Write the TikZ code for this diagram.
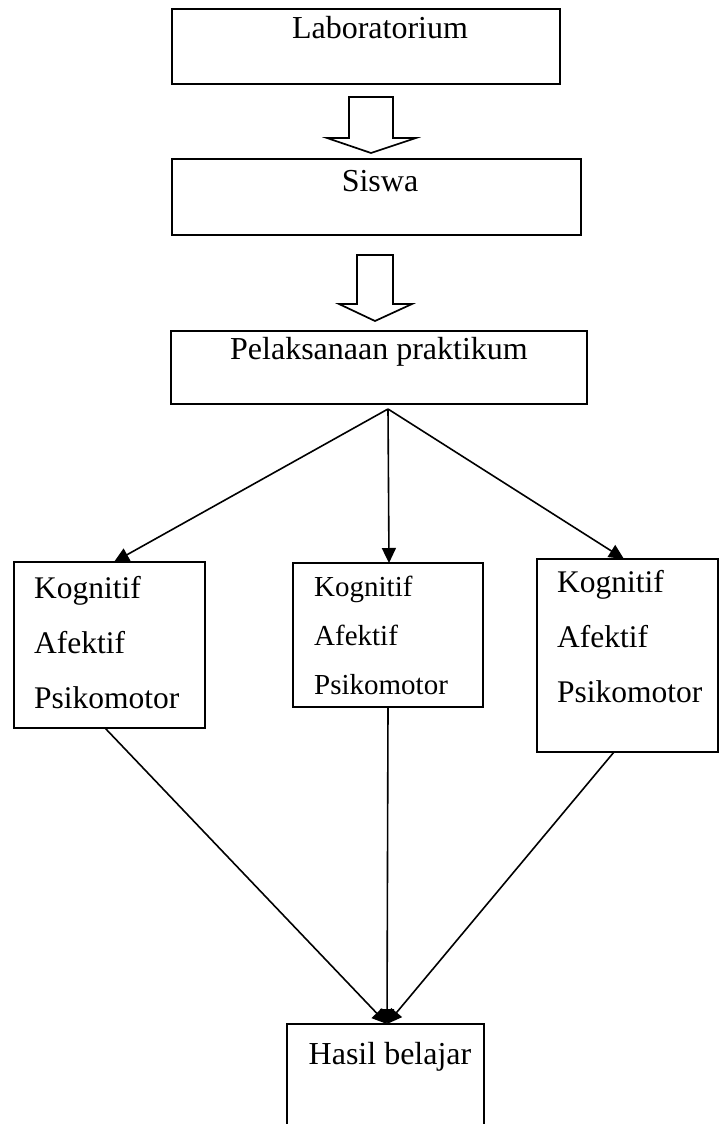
\documentclass[tikz,border=0pt]{standalone}
\usepackage{fontspec}
\setmainfont{Liberation Serif}
\usetikzlibrary{arrows.meta,calc}
\begin{document}
\begin{tikzpicture}[x=1pt,y=-1pt,
  box/.style={draw, line width=1.6pt, inner sep=0pt, outer sep=0pt},
  conn/.style={line width=1.6pt, -{Triangle[length=15pt,width=14pt]}},
  tcenter/.style={anchor=base, inner sep=0pt, font=\fontsize{32}{38}\selectfont},
  tleft/.style={anchor=base west, inner sep=0pt, font=\fontsize{31.5}{38}\selectfont},
  tmid/.style={anchor=base west, inner sep=0pt, font=\fontsize{29}{35}\selectfont},
  blockarrow/.style={draw, line width=1.7pt, line join=miter}]
\useasboundingbox (0,0) rectangle (720,1124);
% boxes
\node[box, minimum width=388pt, minimum height=75pt] (lab) at (366,46.5) {};
\node[box, minimum width=409pt, minimum height=76pt] (sis) at (376.5,197) {};
\node[box, minimum width=416pt, minimum height=73pt] (pel) at (379,367.5) {};
\node[box, minimum width=191pt, minimum height=166pt] (k1) at (109.5,645) {};
\node[box, minimum width=190pt, minimum height=144pt] (k2) at (388,635) {};
\node[box, minimum width=181pt, minimum height=193pt] (k3) at (627.5,655.5) {};
\node[box, minimum width=197pt, minimum height=130pt] (has) at (385.5,1089) {};
% texts
\node[tcenter] (t1) at (380,39) {Laboratorium};
\node[tcenter] (t2) at (380,191) {Siswa};
\node[tcenter] (t3) at (379,359) {Pelaksanaan praktikum};
\node[tcenter] (t4) at (390,1064) {Hasil belajar};
\node[tleft] (a1) at (34,598) {Kognitif};
\node[tleft] (a2) at (34,653) {Afektif};
\node[tleft] (a3) at (34,708) {Psikomotor};
\node[tmid] (b1) at (314,596) {Kognitif};
\node[tmid] (b2) at (314,645) {Afektif};
\node[tmid] (b3) at (314,694) {Psikomotor};
\node[tleft] (c1) at (557,592) {Kognitif};
\node[tleft] (c2) at (557,647) {Afektif};
\node[tleft] (c3) at (557,702) {Psikomotor};
% block arrows
\draw[blockarrow] (349,97) -- (393,97) -- (393,138) -- (416,138) -- (371,153) -- (327,138) -- (349,138) -- cycle;
\draw[blockarrow] (357,255) -- (393,255) -- (393,304) -- (412,304) -- (375,321) -- (339,304) -- (357,304) -- cycle;
% connectors
\coordinate (apex) at (388,409);
\draw[conn] (apex) -- ($(k1.north)+(4.5,0)$);
\draw[conn] (apex) -- ($(k2.north)+(1,0)$);
\draw[conn] (apex) -- ($(k3.north)+(-3.5,0)$);
\coordinate (hin) at ($(has.north)+(1.5,0)$);
\draw[conn] ($(k1.south)+(-4.5,0)$) -- (hin);
\draw[conn] (k2.south) -- (hin);
\draw[conn] ($(k3.south)+(-13.5,0)$) -- (hin);
\end{tikzpicture}
\end{document}
